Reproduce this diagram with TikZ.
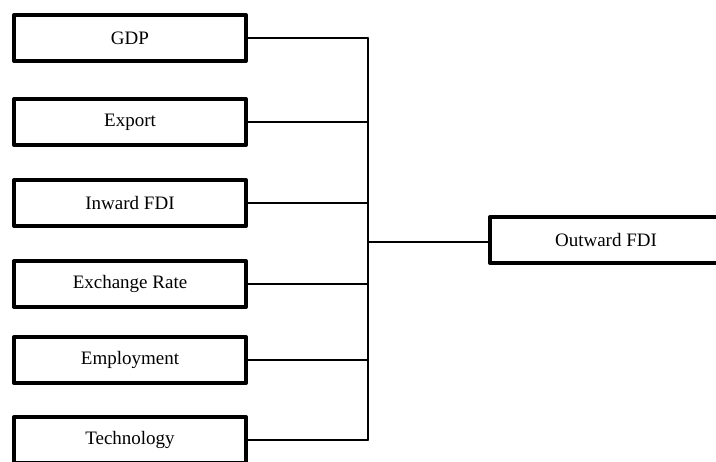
\documentclass[tikz,border=0pt]{standalone}
\usepackage{fontspec}
\setmainfont{Liberation Serif}
\usepackage{tikz}
\usetikzlibrary{positioning}

\begin{document}
\begin{tikzpicture}[x=1pt,y=-1pt,
  block/.style={rectangle,draw,line width=4pt,line join=round,
    minimum width=232pt,minimum height=46pt,inner sep=0pt,
    align=center,font=\fontsize{19}{22}\selectfont},
  link/.style={line width=2.4pt}]
\clip (0,0) rectangle (716,462);
\node[block] (gdp)  at (130,38)  {GDP};
\node[block] (exp)  at (130,122) {Export};
\node[block] (ifdi) at (130,203) {Inward FDI};
\node[block] (exr)  at (130,284) {Exchange Rate};
\node[block] (emp)  at (130,360) {Employment};
\node[block] (tech) at (130,440) {Technology};
\node[block] (ofdi) at (606,240) {Outward FDI};
\coordinate (jn) at (368,242);
% feeders into the bus
\foreach \b in {gdp,exp,ifdi,exr,emp,tech}
  \draw[link] (\b.east) -- (\b.east -| jn);
\draw[link,line cap=round] (gdp.east -| jn) -- (tech.east -| jn);
\draw[link] (jn) -- (jn -| ofdi.west);
\end{tikzpicture}
\end{document}
